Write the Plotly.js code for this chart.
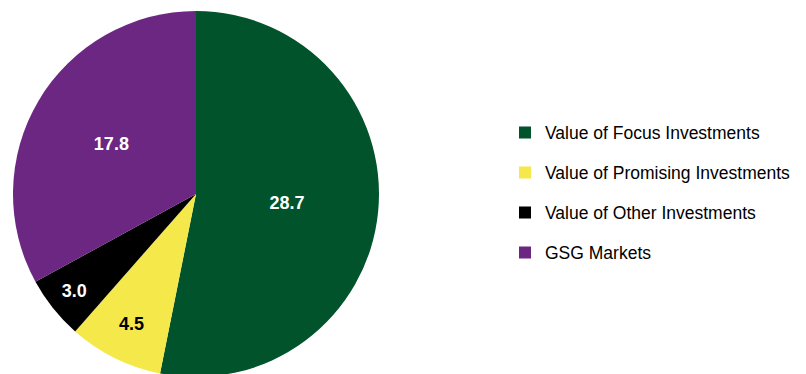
<!DOCTYPE html>
<html>
<head>
<meta charset="utf-8">
<script src="https://cdn.plot.ly/plotly-3.0.1.min.js"></script>
<style>
  html, body { margin: 0; padding: 0; overflow: hidden; background: #ffffff; }
  #chart { width: 806px; height: 380px; }
</style>
</head>
<body>
<div id="chart"></div>
<script>
const categories = [
  "Value of Focus Investments",
  "Value of Promising Investments",
  "Value of Other Investments",
  "GSG Markets"
];
const values = [28.7, 4.5, 3.0, 17.8];
const sliceColors = ["#00532B", "#F5E84A", "#000000", "#6C2783"];
const labelColors = ["#FFFFFF", "#000000", "#FFFFFF", "#FFFFFF"];

// legend entries are rendered at 17.5px inside a taller legend row
const legendLabels = categories.map(c =>
  '<span style="font-size:17.5px;baseline-shift:5px">' + c + '</span>');

const trace = {
  type: "pie",
  labels: legendLabels,
  values: values,
  sort: false,
  direction: "clockwise",
  rotation: 0,
  marker: { colors: sliceColors, line: { width: 0 } },
  texttemplate: "%{value:.1f}",
  textposition: "inside",
  insidetextorientation: "horizontal",
  insidetextfont: { family: "Liberation Sans, Arial, sans-serif", size: 18, weight: "bold", color: labelColors },
  hoverinfo: "none",
  domain: { x: [13 / 806, 379 / 806], y: [0, 1] }
};

const layout = {
  width: 806,
  height: 380,
  margin: { l: 0, r: 0, t: 11, b: 3 },
  paper_bgcolor: "#ffffff",
  plot_bgcolor: "#ffffff",
  showlegend: true,
  legend: {
    x: 505 / 806,
    xanchor: "left",
    y: 0.503,
    yanchor: "middle",
    font: { family: "Liberation Sans, Arial, sans-serif", size: 28.5, color: "#000000" },
    bgcolor: "rgba(0,0,0,0)",
    borderwidth: 0
  }
};

Plotly.newPlot("chart", [trace], layout, { staticPlot: true, displayModeBar: false });
</script>
</body>
</html>
